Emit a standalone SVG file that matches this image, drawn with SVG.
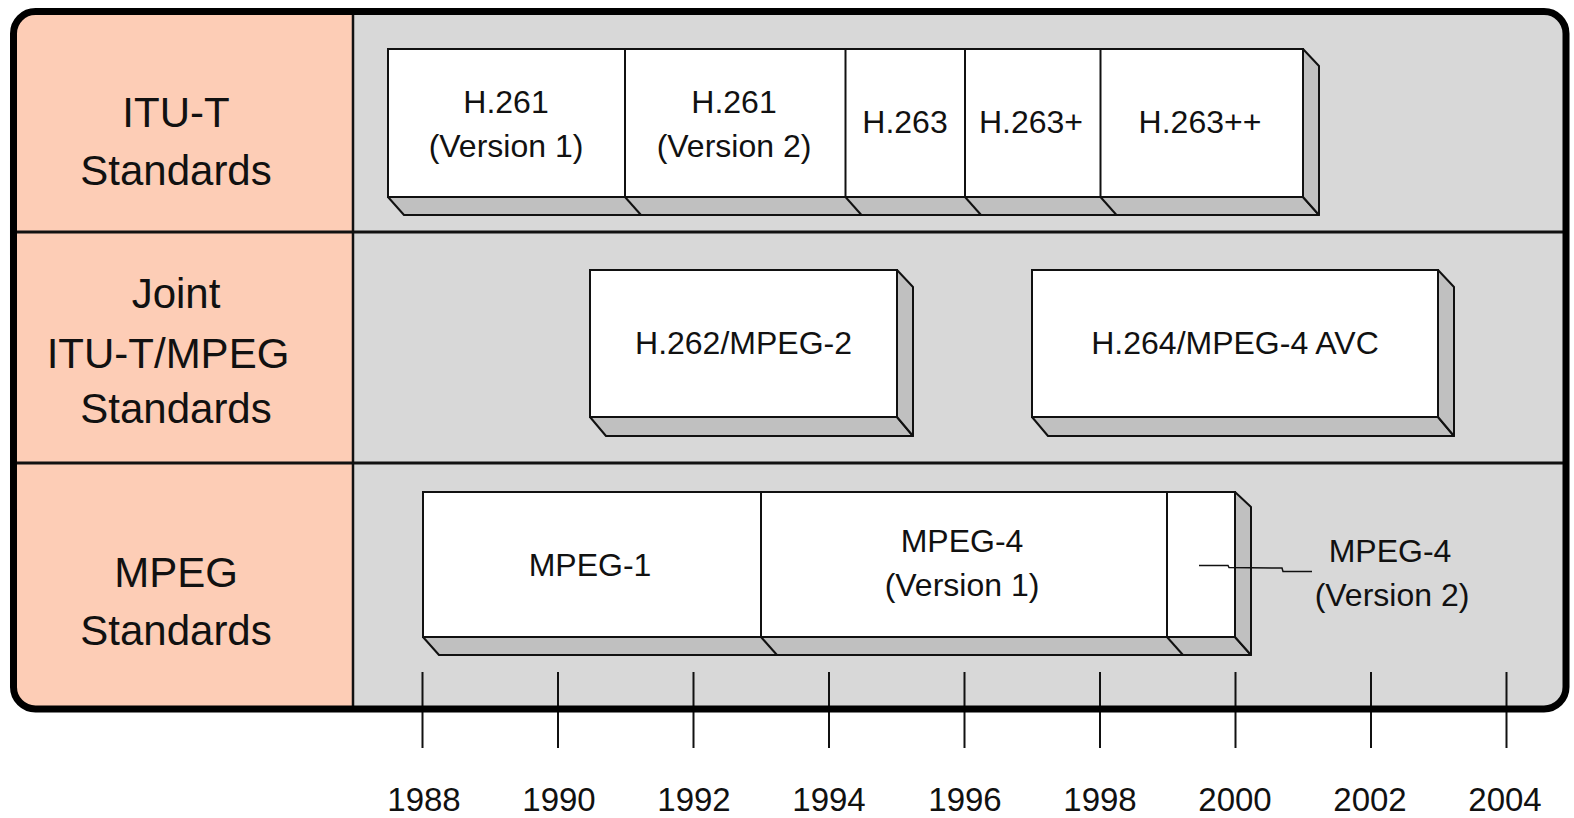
<svg xmlns="http://www.w3.org/2000/svg" width="1574" height="818" viewBox="0 0 1574 818">
<style>
.lbl{font-family:"Liberation Sans",Arial,sans-serif;font-size:42px;fill:#111;text-anchor:middle}
.bt{font-family:"Liberation Sans",Arial,sans-serif;font-size:32px;fill:#111;text-anchor:middle}
.yr{font-family:"Liberation Sans",Arial,sans-serif;font-size:33px;fill:#111;text-anchor:middle}
.face{fill:#ffffff;stroke:#111;stroke-width:2}
.shade{fill:#c0c0c0;stroke:#111;stroke-width:2;stroke-linejoin:round}
.div{stroke:#111;stroke-width:2;fill:none}
.tick{stroke:#111;stroke-width:2}
</style>
<defs>
<clipPath id="frameClip"><rect x="13.5" y="11.5" width="1552.5" height="697.5" rx="22" ry="22"/></clipPath>
</defs>
<rect width="1574" height="818" fill="#ffffff"/>
<g id="frame">
<rect x="13.5" y="11.5" width="1552.5" height="697.5" rx="22" ry="22" fill="#d8d8d8"/>
<rect x="0" y="0" width="353" height="818" fill="#fdcdb6" clip-path="url(#frameClip)"/>
<line x1="353" y1="11.5" x2="353" y2="709" stroke="#111" stroke-width="2.5"/>
<line x1="13.5" y1="232" x2="1566" y2="232" stroke="#111" stroke-width="3"/>
<line x1="13.5" y1="463" x2="1566" y2="463" stroke="#111" stroke-width="3"/>
</g>
<g id="axis">
<line class="tick" x1="422.5" y1="672" x2="422.5" y2="748"/>
<line class="tick" x1="558" y1="672" x2="558" y2="748"/>
<line class="tick" x1="693.5" y1="672" x2="693.5" y2="748"/>
<line class="tick" x1="829" y1="672" x2="829" y2="748"/>
<line class="tick" x1="964.5" y1="672" x2="964.5" y2="748"/>
<line class="tick" x1="1100" y1="672" x2="1100" y2="748"/>
<line class="tick" x1="1235.5" y1="672" x2="1235.5" y2="748"/>
<line class="tick" x1="1371" y1="672" x2="1371" y2="748"/>
<line class="tick" x1="1506.5" y1="672" x2="1506.5" y2="748"/>
<text class="yr" x="424" y="811">1988</text>
<text class="yr" x="559" y="811">1990</text>
<text class="yr" x="694" y="811">1992</text>
<text class="yr" x="829" y="811">1994</text>
<text class="yr" x="965" y="811">1996</text>
<text class="yr" x="1100" y="811">1998</text>
<text class="yr" x="1235" y="811">2000</text>
<text class="yr" x="1370" y="811">2002</text>
<text class="yr" x="1505" y="811">2004</text>
</g>
<rect x="13.5" y="11.5" width="1552.5" height="697.5" rx="22" ry="22" fill="none" stroke="#000" stroke-width="7"/>
<g id="label-itu">
<text class="lbl" x="176" y="127">ITU-T</text>
<text class="lbl" x="176" y="185">Standards</text>
</g>
<g id="label-joint">
<text class="lbl" x="176" y="308">Joint</text>
<text class="lbl" x="168" y="368">ITU-T/MPEG</text>
<text class="lbl" x="176" y="423">Standards</text>
</g>
<g id="label-mpeg">
<text class="lbl" x="176" y="587">MPEG</text>
<text class="lbl" x="176" y="645">Standards</text>
</g>
<g id="bar-itu">
<polygon class="shade" points="388,197 1303,197 1319,215 404,215"/>
<polygon class="shade" points="1303,49 1319,66 1319,215 1303,197"/>
<rect class="face" x="388" y="49" width="915" height="148"/>
<g id="h261v1">
<text class="bt" x="506" y="113">H.261</text>
<text class="bt" x="506" y="157">(Version 1)</text>
</g>
<g id="h261v2">
<line class="div" x1="625" y1="49" x2="625" y2="197"/>
<line class="div" x1="625" y1="197" x2="641" y2="215"/>
<text class="bt" x="734" y="113">H.261</text>
<text class="bt" x="734" y="157">(Version 2)</text>
</g>
<g id="h263">
<line class="div" x1="845.5" y1="49" x2="845.5" y2="197"/>
<line class="div" x1="845.5" y1="197" x2="861.5" y2="215"/>
<text class="bt" x="905" y="133">H.263</text>
</g>
<g id="h263p">
<line class="div" x1="965" y1="49" x2="965" y2="197"/>
<line class="div" x1="965" y1="197" x2="981" y2="215"/>
<text class="bt" x="1031" y="133">H.263+</text>
</g>
<g id="h263pp">
<line class="div" x1="1100.5" y1="49" x2="1100.5" y2="197"/>
<line class="div" x1="1100.5" y1="197" x2="1116.5" y2="215"/>
<text class="bt" x="1200" y="133">H.263++</text>
</g>
</g>
<g id="h262-mpeg2">
<polygon class="shade" points="590,417 897,417 913,436 606,436"/>
<polygon class="shade" points="897,270 913,287 913,436 897,417"/>
<rect class="face" x="590" y="270" width="307" height="147"/>
<text class="bt" x="743.5" y="354">H.262/MPEG-2</text>
</g>
<g id="h264-avc">
<polygon class="shade" points="1032,417 1438,417 1454,436 1048,436"/>
<polygon class="shade" points="1438,270 1454,287 1454,436 1438,417"/>
<rect class="face" x="1032" y="270" width="406" height="147"/>
<text class="bt" x="1235" y="354">H.264/MPEG-4 AVC</text>
</g>
<g id="bar-mpeg">
<polygon class="shade" points="423,637 1235,637 1251,655 439,655"/>
<polygon class="shade" points="1235,492 1251,507 1251,655 1235,637"/>
<rect class="face" x="423" y="492" width="812" height="145"/>
<g id="mpeg1">
<text class="bt" x="590" y="576">MPEG-1</text>
</g>
<g id="mpeg4v1">
<line class="div" x1="761" y1="492" x2="761" y2="637"/>
<line class="div" x1="761" y1="637" x2="777" y2="655"/>
<text class="bt" x="962" y="552">MPEG-4</text>
<text class="bt" x="962" y="596">(Version 1)</text>
</g>
<g id="mpeg4v2-seg">
<line class="div" x1="1167" y1="492" x2="1167" y2="637"/>
<line class="div" x1="1167" y1="637" x2="1183" y2="655"/>
</g>
</g>
<g id="mpeg4v2-label">
<text class="bt" x="1390" y="562">MPEG-4</text>
<text class="bt" x="1392" y="606">(Version 2)</text>
</g>
<g id="connectors">
<polyline points="1199,565.5 1228,565.5 1229,567.5 1282,568 1283,571.5 1312,571.5" fill="none" stroke="#111" stroke-width="1.5"/>
</g>
</svg>
